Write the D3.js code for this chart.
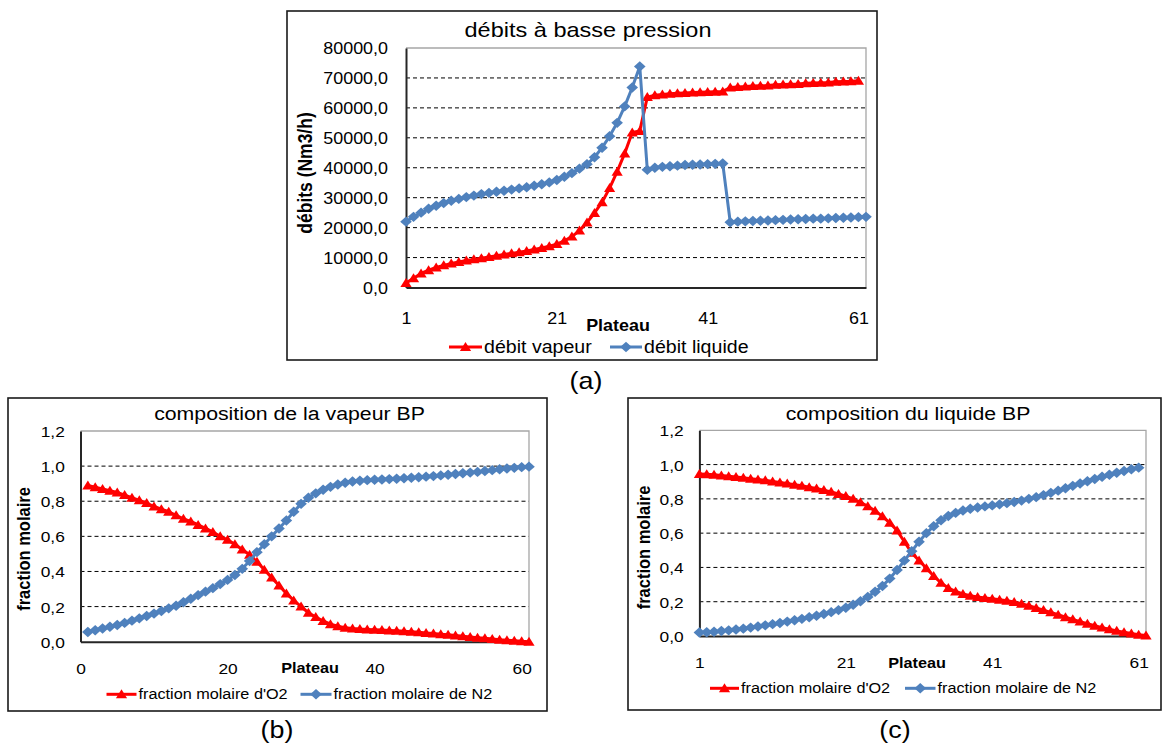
<!DOCTYPE html>
<html>
<head>
<meta charset="utf-8">
<script src="https://cdn.jsdelivr.net/npm/d3@7"></script>
<style>
  body { margin: 0; background: #fff; }
  svg { display: block; }
  text { font-family: "Liberation Sans", Arial, sans-serif; fill: #000; }
</style>
</head>
<body>
<svg id="fig" width="1163" height="748"></svg>
<script>
// ---- data ----
const plateauA = d3.range(1, 63);          // categories 1..62
const plateauB = d3.range(1, 62);          // x values 1..61
const plateauC = d3.range(1, 63);

const debitVapeur = [1500, 3100, 4700, 5800, 6700, 7400, 8000, 8500, 9000, 9400,
  9800, 10200, 10600, 11000, 11400, 11800, 12200, 12700, 13200, 13800,
  14500, 15600, 17000, 19000, 21700, 24900, 28500, 33200, 38700, 44800,
  51800, 52300, 63600, 64200, 64500, 64700, 64900, 65000, 65100, 65200,
  65300, 65400, 65500, 66800, 67000, 67100, 67300, 67400, 67500, 67700,
  67800, 67900, 68000, 68200, 68300, 68400, 68500, 68700, 68800, 68900,
  69100];
const debitLiquide = [22000, 23600, 25000, 26300, 27300, 28200, 29000, 29600, 30200, 30700,
  31200, 31600, 32000, 32300, 32700, 33100, 33500, 34000, 34500, 35100,
  35900, 37000, 38200, 39700, 41200, 43500, 46700, 50500, 55000, 60500,
  66800, 73800, 39300, 40000, 40300, 40500, 40700, 40900, 41000, 41100,
  41200, 41300, 41400, 21800, 22000, 22100, 22200, 22300, 22400, 22500,
  22600, 22700, 22800, 22900, 23000, 23000, 23100, 23200, 23300, 23400,
  23500, 23600];

const vapO2 = [0.89, 0.88, 0.87, 0.86, 0.85, 0.835, 0.82, 0.805, 0.79, 0.77,
  0.755, 0.74, 0.72, 0.70, 0.685, 0.665, 0.645, 0.625, 0.60, 0.58,
  0.555, 0.525, 0.495, 0.455, 0.41, 0.365, 0.32, 0.275, 0.235, 0.20,
  0.165, 0.14, 0.118, 0.10, 0.088, 0.08, 0.075, 0.072, 0.07, 0.068,
  0.066, 0.064, 0.062, 0.06, 0.057, 0.054, 0.05, 0.047, 0.043, 0.039,
  0.035, 0.031, 0.027, 0.023, 0.019, 0.015, 0.011, 0.008, 0.005, 0.002,
  0.0];
const vapN2 = [0.055, 0.065, 0.075, 0.085, 0.095, 0.107, 0.12, 0.133, 0.146, 0.16,
  0.175, 0.19, 0.205, 0.225, 0.245, 0.265, 0.285, 0.305, 0.328, 0.352,
  0.38, 0.415, 0.46, 0.51, 0.555, 0.6, 0.645, 0.69, 0.74, 0.785,
  0.82, 0.845, 0.865, 0.882, 0.895, 0.905, 0.912, 0.917, 0.92, 0.922,
  0.924, 0.926, 0.928, 0.931, 0.934, 0.937, 0.94, 0.943, 0.947, 0.951,
  0.955, 0.959, 0.963, 0.967, 0.972, 0.977, 0.982, 0.986, 0.99, 0.994,
  0.997];

const liqO2 = [0.945, 0.943, 0.94, 0.936, 0.932, 0.928, 0.923, 0.918, 0.913, 0.908,
  0.902, 0.896, 0.89, 0.883, 0.876, 0.868, 0.86, 0.851, 0.841, 0.829,
  0.816, 0.8, 0.78, 0.757, 0.73, 0.698, 0.66, 0.615, 0.55, 0.485,
  0.44, 0.395, 0.35, 0.31, 0.28, 0.26, 0.245, 0.235, 0.228, 0.222,
  0.217, 0.212, 0.206, 0.198, 0.188, 0.177, 0.164, 0.151, 0.138, 0.124,
  0.11, 0.097, 0.084, 0.072, 0.06, 0.049, 0.039, 0.03, 0.022, 0.015,
  0.008, 0.003];
const liqN2 = [0.02, 0.022, 0.025, 0.029, 0.033, 0.038, 0.043, 0.049, 0.055, 0.062,
  0.069, 0.076, 0.084, 0.092, 0.1, 0.109, 0.118, 0.128, 0.139, 0.151,
  0.165, 0.182, 0.203, 0.228, 0.258, 0.292, 0.335, 0.385, 0.44, 0.495,
  0.55, 0.6, 0.64, 0.675, 0.7, 0.718, 0.732, 0.742, 0.75, 0.756,
  0.762, 0.768, 0.775, 0.782, 0.79, 0.8, 0.81, 0.822, 0.835, 0.848,
  0.862, 0.876, 0.89, 0.903, 0.916, 0.929, 0.941, 0.952, 0.963, 0.973,
  0.982];

const ticksA = [1, 21, 41, 61];
const ticksB = [0, 20, 40, 60];
const ticksC = [1, 21, 41, 61];
const yTicksA = [0, 10000, 20000, 30000, 40000, 50000, 60000, 70000, 80000];
const yTicksFrac = [0, 0.2, 0.4, 0.6, 0.8, 1.0, 1.2];

const RED = "#ff0000";
const BLUE = "#4f81bd";
const SX = 1.12;   // the scanned figure is stretched sideways

const fmt = d3.formatLocale({ decimal: ",", thousands: "", grouping: [3], currency: ["", ""] }).format(".1f");

const svg = d3.select("#fig");
svg.append("rect").attr("width", 1163).attr("height", 748).attr("fill", "#fff");

const markers = {
  tri: "M0,-5L5.6,4L-5.6,4Z",
  dia: "M0,-5.2L5.8,0L0,5.2L-5.8,0Z"
};

function txt(g, x, y, s, size, opt = {}) {
  const t = opt.rotate
    ? `translate(${x},${y}) rotate(-90) scale(1,${SX})`
    : `translate(${x},${y}) scale(${SX},1)`;
  return g.append("text")
    .attr("transform", t)
    .attr("text-anchor", opt.anchor || "middle")
    .attr("dy", opt.dy == null ? "0.35em" : opt.dy)
    .attr("font-size", size)
    .attr("font-weight", opt.bold ? "bold" : null)
    .text(s);
}

function drawChart(c) {
  const g = svg.append("g");
  const p = c.plot;

  g.append("rect")
    .attr("x", c.frame[0]).attr("y", c.frame[1])
    .attr("width", c.frame[2] - c.frame[0]).attr("height", c.frame[3] - c.frame[1])
    .attr("fill", "none").attr("stroke", "#1a1a1a").attr("stroke-width", 1.6);

  const x = d3.scaleLinear().domain(c.xDomain).range([p.left, p.right]);
  const y = d3.scaleLinear().domain(c.yDomain).range([p.bottom, p.top]);

  // dashed gridlines
  g.append("g").selectAll("line")
    .data(c.yTicks.filter(v => v > c.yDomain[0] && v < c.yDomain[1]))
    .join("line")
    .attr("x1", p.left).attr("x2", p.right)
    .attr("y1", d => y(d)).attr("y2", d => y(d))
    .attr("stroke", "#000").attr("stroke-width", 1)
    .attr("stroke-dasharray", "4,3");

  // plot area border (top / right)
  g.append("path")
    .attr("d", `M${p.left},${p.top}H${p.right}V${p.bottom}`)
    .attr("fill", "none").attr("stroke", "#a6a6a6").attr("stroke-width", 1.3);

  // y axis
  const ya = g.append("g")
    .attr("transform", `translate(${p.left},0)`)
    .call(d3.axisLeft(y).tickValues(c.yTicks).tickFormat(fmt).tickSize(0).tickSizeOuter(0));
  ya.select(".domain").attr("stroke", "#262626").attr("stroke-width", 2);
  ya.selectAll("text")
    .attr("x", 0).attr("dy", "0.35em")
    .attr("transform", `translate(${-c.yPad},0) scale(${SX},1)`)
    .attr("font-size", c.tickSize).attr("fill", "#000");
  ya.attr("font-family", null).attr("font-size", null);

  // x axis
  const xa = g.append("g")
    .attr("transform", `translate(0,${p.bottom})`)
    .call(d3.axisBottom(x).tickValues(c.xTicks).tickSize(0).tickSizeOuter(0));
  xa.select(".domain").attr("stroke", "#262626").attr("stroke-width", 2);
  xa.selectAll("text")
    .attr("y", c.xPad).attr("dy", "0.35em")
    .attr("transform", `scale(${SX},1)`)
    .attr("font-size", c.tickSize).attr("fill", "#000");
  xa.attr("font-family", null).attr("font-size", null);

  // series
  c.series.forEach(s => {
    const pts = s.values.map((v, i) => [s.xs[i], v]);
    g.append("path").datum(pts)
      .attr("d", d3.line().x(d => x(d[0])).y(d => y(d[1])))
      .attr("fill", "none").attr("stroke", s.color)
      .attr("stroke-width", 3).attr("stroke-linejoin", "round");
    g.append("g").selectAll("path").data(pts).join("path")
      .attr("transform", d => `translate(${x(d[0])},${y(d[1])})`)
      .attr("d", markers[s.shape]).attr("fill", s.color);
  });

  // titles
  txt(g, c.title.x, c.title.y, c.title.text, c.title.size, { dy: 0 });
  txt(g, c.yTitle.x, c.yTitle.y, c.yTitle.text, c.yTitle.size, { rotate: true, bold: true });
  txt(g, c.xTitle.x, c.xTitle.y, "Plateau", c.xTitle.size, { bold: true });

  // legend
  c.legend.items.forEach((it, i) => {
    const s = c.series[i];
    const ly = c.legend.y;
    g.append("line").attr("x1", it.x0).attr("x2", it.x1).attr("y1", ly).attr("y2", ly)
      .attr("stroke", s.color).attr("stroke-width", 3);
    g.append("path").attr("transform", `translate(${(it.x0 + it.x1) / 2},${ly})`)
      .attr("d", markers[s.shape]).attr("fill", s.color);
    txt(g, it.x1 + 2, ly, s.name, c.legend.size, { anchor: "start" });
  });

  txt(svg, c.tag.x, c.tag.y, c.tag.text, 24);
}

drawChart({
  frame: [287, 11, 877, 360],
  plot: { left: 406, right: 866, top: 48, bottom: 287.5 },
  xDomain: [1, 62], yDomain: [0, 80000],
  xTicks: ticksA, yTicks: yTicksA,
  tickSize: 16, yPad: 18, xPad: 31,
  title: { text: "débits à basse pression", x: 588, y: 37, size: 21 },
  yTitle: { text: "débits  (Nm3/h)", x: 305, y: 173, size: 17.5 },
  xTitle: { x: 618, y: 325, size: 16 },
  series: [
    { name: "débit vapeur", values: debitVapeur, xs: plateauA, color: RED, shape: "tri" },
    { name: "débit liquide", values: debitLiquide, xs: plateauA, color: BLUE, shape: "dia" }
  ],
  legend: { y: 347, size: 17.5, items: [{ x0: 449, x1: 482 }, { x0: 610, x1: 642 }] },
  tag: { text: "(a)", x: 586, y: 381 }
});

drawChart({
  frame: [8, 398, 547, 711],
  plot: { left: 80.5, right: 529, top: 431, bottom: 641.7 },
  xDomain: [0, 61], yDomain: [0, 1.2],
  xTicks: ticksB, yTicks: yTicksFrac,
  tickSize: 15.5, yPad: 15.7, xPad: 26.6,
  title: { text: "composition de la  vapeur BP", x: 289.5, y: 420, size: 19 },
  yTitle: { text: "fraction molaire", x: 24, y: 549, size: 16.5 },
  xTitle: { x: 310, y: 668.3, size: 14.5 },
  series: [
    { name: "fraction molaire d'O2", values: vapO2, xs: plateauB, color: RED, shape: "tri" },
    { name: "fraction molaire de N2", values: vapN2, xs: plateauB, color: BLUE, shape: "dia" }
  ],
  legend: { y: 694.3, size: 14.5, items: [{ x0: 106.5, x1: 136.5 }, { x0: 300.5, x1: 331.5 }] },
  tag: { text: "(b)", x: 277, y: 730 }
});

drawChart({
  frame: [628, 398, 1161, 710],
  plot: { left: 699.4, right: 1146, top: 430.3, bottom: 636 },
  xDomain: [1, 62], yDomain: [0, 1.2],
  xTicks: ticksC, yTicks: yTicksFrac,
  tickSize: 15.5, yPad: 15.7, xPad: 26.7,
  title: { text: "composition du liquide BP", x: 908, y: 420, size: 19 },
  yTitle: { text: "fraction molaire", x: 644, y: 547.5, size: 16.5 },
  xTitle: { x: 917, y: 662.7, size: 14.5 },
  series: [
    { name: "fraction molaire d'O2", values: liqO2, xs: plateauC, color: RED, shape: "tri" },
    { name: "fraction molaire de N2", values: liqN2, xs: plateauC.slice(0, 61), color: BLUE, shape: "dia" }
  ],
  legend: { y: 688.3, size: 14.5, items: [{ x0: 710, x1: 739 }, { x0: 905, x1: 935.5 }] },
  tag: { text: "(c)", x: 895, y: 730 }
});
</script>
</body>
</html>
